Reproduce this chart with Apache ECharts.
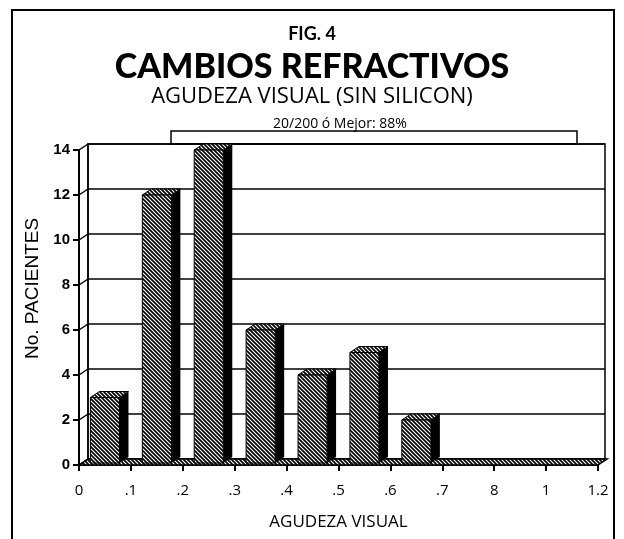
<!DOCTYPE html>
<html>
<head>
<meta charset="utf-8">
<script src="https://cdn.jsdelivr.net/npm/echarts@6/dist/echarts.min.js"></script>
<style>
  html, body { margin: 0; padding: 0; background: #fff; }
  #chart { width: 624px; height: 539px; }
</style>
</head>
<body>
<div id="chart"></div>
<script>
const tickLabels = ["0", ".1", ".2", ".3", ".4", ".5", ".6", ".7", "8", "1", "1.2"];
const categories = ["0-.1", ".1-.2", ".2-.3", ".3-.4", ".4-.5", ".5-.6", ".6-.7", ".7-.8", ".8-1", "1-1.2"];
const pacientes = [3, 12, 14, 6, 4, 5, 2, 0, 0, 0];
const yTicks = [0, 2, 4, 6, 8, 10, 12, 14];

// diagonal hatch used for bar faces and the floor
function makeHatch() {
  const c = document.createElement("canvas");
  c.width = 4;
  c.height = 4;
  const ctx = c.getContext("2d");
  ctx.fillStyle = "#fff";
  ctx.fillRect(0, 0, 4, 4);
  ctx.strokeStyle = "#000";
  ctx.lineWidth = 1.7;
  ctx.beginPath();
  ctx.moveTo(-1, -1); ctx.lineTo(5, 5);
  ctx.moveTo(-1, 3); ctx.lineTo(1, 5);
  ctx.moveTo(3, -1); ctx.lineTo(5, 1);
  ctx.stroke();
  return c;
}
const hatch = { image: makeHatch(), repeat: "repeat" };

const DX = 9;
const DY = -6;
const font = "'Open Sans', 'DejaVu Sans', sans-serif";

const chart = echarts.init(document.getElementById("chart"), null, { renderer: "canvas" });

chart.setOption({
  backgroundColor: "#fff",
  animation: false,
  title: [
    { text: "FIG. 4", left: "center", top: 20, textStyle: { fontFamily: "Lato", fontWeight: "bold", fontSize: 18, color: "#000" } },
    { text: "CAMBIOS REFRACTIVOS", left: "center", top: 45, textStyle: { fontFamily: "Lato", fontWeight: 900, fontSize: 34, color: "#000" } },
    { text: "AGUDEZA VISUAL (SIN SILICON)", left: "center", top: 81, textStyle: { fontFamily: font, fontWeight: "normal", fontSize: 22, color: "#000" } },
    { text: "20/200 ó Mejor: 88%", left: 268, top: 112, textStyle: { fontFamily: font, fontWeight: "normal", fontSize: 14, color: "#000" } },
  ],
  graphic: [
    { type: "rect", z: -1, shape: { x: 12, y: 10, width: 602, height: 560 }, style: { fill: "none", stroke: "#000", lineWidth: 2 } },
    { type: "rect", z: -1, shape: { x: 171, y: 131, width: 406, height: 13 }, style: { fill: "#fff", stroke: "#000", lineWidth: 1.5 } },
  ],
  grid: [
    { left: 79, right: 26, top: 150, bottom: 74 },
    { left: 88, right: 19, top: 144, bottom: 80, show: true, borderColor: "#000", borderWidth: 1.5, backgroundColor: "transparent", z: 0 },
  ],
  xAxis: [
    {
      type: "value", gridIndex: 0, min: 0, max: 10, interval: 1,
      name: "AGUDEZA VISUAL", nameLocation: "middle", nameGap: 49,
      nameTextStyle: { fontFamily: font, fontSize: 17, color: "#000" },
      axisLine: { show: true, lineStyle: { color: "#000", width: 2 } },
      axisTick: { show: true, length: 6, lineStyle: { color: "#000", width: 2 } },
      axisLabel: { color: "#000", fontFamily: font, fontSize: 15, margin: 18, formatter: (v) => tickLabels[v] },
      splitLine: { show: false },
    },
    {
      type: "value", gridIndex: 1, min: 0, max: 10, interval: 1, show: false,
    },
  ],
  yAxis: [
    {
      type: "value", gridIndex: 0, min: 0, max: 14, interval: 2,
      name: "No. PACIENTES", nameLocation: "middle", nameGap: 37, nameRotate: 90,
      nameTextStyle: { fontFamily: "Liberation Sans", fontSize: 19, color: "#000", padding: [0, 0, 0, 38] },
      axisLine: { show: true, lineStyle: { color: "#000", width: 2 } },
      axisTick: { show: true, length: 6, lineStyle: { color: "#000", width: 2 } },
      axisLabel: { color: "#000", fontFamily: "Liberation Sans", fontWeight: "bold", fontSize: 15, margin: 9 },
      splitLine: { show: false },
    },
    {
      type: "value", gridIndex: 1, min: 0, max: 14, interval: 2,
      axisLine: { show: true, lineStyle: { color: "#000", width: 1.5 } },
      axisTick: { show: false },
      axisLabel: { show: false },
      splitLine: { show: true, lineStyle: { color: "#000", width: 1.5 } },
    },
  ],
  series: [
    {
      // floor strip
      type: "custom", xAxisIndex: 0, yAxisIndex: 0, z: 2, silent: true,
      data: [[0, 10]],
      renderItem: (params, api) => {
        const a = api.coord([api.value(0), 0]);
        const b = api.coord([api.value(1), 0]);
        return {
          type: "polygon",
          shape: { points: [a, b, [b[0] + DX, b[1] + DY], [a[0] + DX, a[1] + DY]] },
          style: { fill: hatch, stroke: "#000", lineWidth: 1.5 },
        };
      },
    },
    {
      // connectors between the front axis and the back wall
      type: "custom", xAxisIndex: 0, yAxisIndex: 0, z: 3, silent: true,
      data: yTicks.map((v) => [0, v]),
      renderItem: (params, api) => {
        const p = api.coord([0, api.value(1)]);
        return {
          type: "line",
          shape: { x1: p[0], y1: p[1], x2: p[0] + DX, y2: p[1] + DY },
          style: { stroke: "#000", lineWidth: 1.5 },
        };
      },
    },
    {
      name: "No. Pacientes",
      type: "custom", xAxisIndex: 0, yAxisIndex: 0, z: 4,
      data: pacientes.map((v, i) => [i, v, categories[i]]),
      renderItem: (params, api) => {
        const i = api.value(0);
        const v = api.value(1);
        if (!v) return null;
        const base = api.coord([i, 0]);
        const top = api.coord([i, v]);
        const w = api.size([1, 0])[0];
        const x0 = base[0] + w * 0.22;
        const x1 = base[0] + w * 0.78;
        const yb = base[1] - 2;
        const yt = top[1];
        const dx = 9;
        return {
          type: "group",
          children: [
            {
              type: "polygon",
              shape: { points: [[x1, yb], [x1, yt], [x1 + dx, yt + DY], [x1 + dx, yb + DY]] },
              style: { fill: "#000" },
            },
            {
              type: "polygon",
              shape: { points: [[x0, yt], [x1, yt], [x1 + dx, yt + DY], [x0 + dx, yt + DY]] },
              style: { fill: hatch, stroke: "#000", lineWidth: 1 },
            },
            {
              type: "rect",
              shape: { x: x0, y: yt, width: x1 - x0, height: yb - yt },
              style: { fill: hatch, stroke: "#000", lineWidth: 1 },
            },
          ],
        };
      },
    },
  ],
});
</script>
</body>
</html>
